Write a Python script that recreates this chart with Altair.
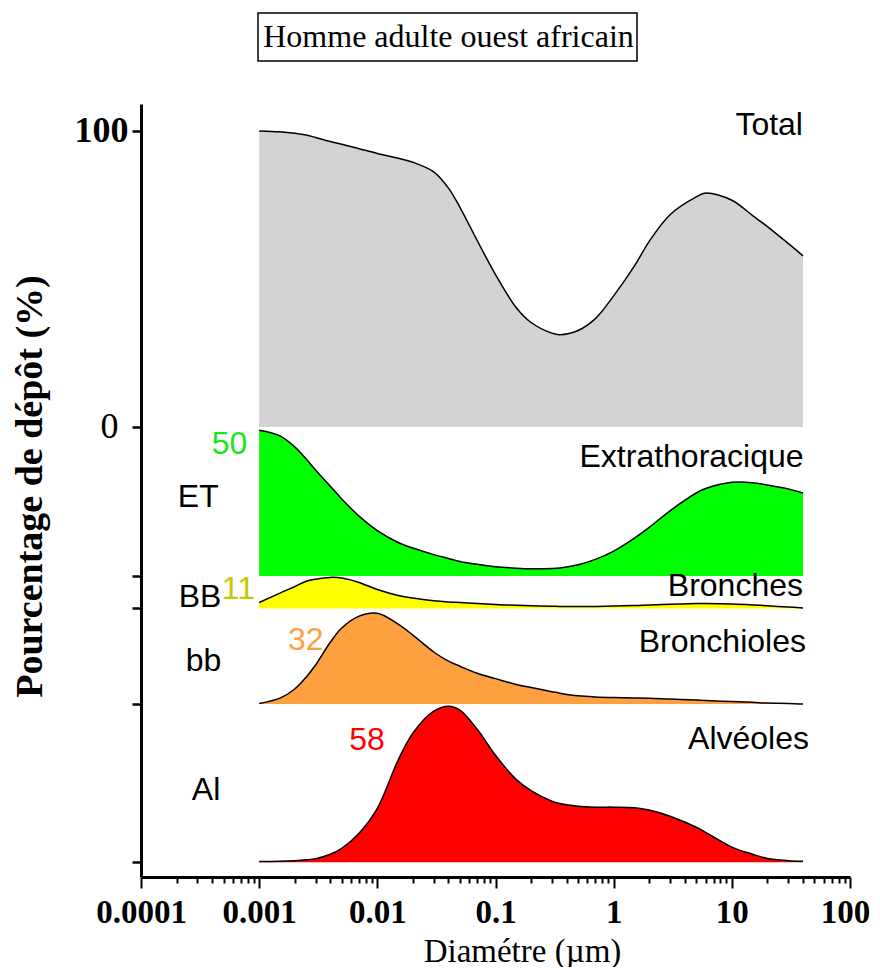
import altair as alt
import pandas as pd

# ---------------- data ----------------
diameter = [0.001, 0.0015, 0.002, 0.0025, 0.003, 0.004, 0.005, 0.007, 0.01, 0.015,
            0.02, 0.03, 0.04, 0.05, 0.07, 0.1, 0.15, 0.2, 0.3, 0.35,
            0.5, 0.7, 1, 1.5, 2, 3, 5, 6, 10, 15, 20, 30, 40]

total = [100, 99.7, 99.2, 98.6, 97.8, 96.4, 95.5, 94.0, 92.4, 90.8,
         89.4, 86.2, 80.7, 74.2, 63.0, 51.5, 40.3, 35.3, 31.7, 31.2,
         32.6, 36.6, 44.3, 54.4, 62.7, 71.7, 77.7, 79.0, 76.6, 71.4, 67.7, 62.0, 57.8]

extrathoracique = [49.2, 47.3, 43.6, 39.5, 35.8, 30.3, 26.0, 20.2, 15.3, 11.3,
                   9.4, 7.2, 5.9, 4.9, 3.9, 3.1, 2.6, 2.4, 2.5, 2.7,
                   3.8, 5.6, 8.4, 12.8, 16.4, 22.0, 28.0, 29.5, 31.6, 31.5, 30.7, 29.4, 28.0]

bronches = [2.0, 5.2, 7.4, 9.2, 9.9, 10.5, 10.3, 8.8, 6.4, 4.4,
            3.5, 2.6, 2.2, 2.0, 1.7, 1.35, 1.05, 0.9, 0.75, 0.7,
            0.65, 0.7, 0.85, 1.0, 1.2, 1.45, 1.65, 1.65, 1.5, 1.2, 0.9, 0.5, 0.2]

bronchioles = [0.2, 2.0, 5.1, 9.1, 13.2, 20.9, 25.7, 29.7, 30.7, 27.0,
               23.3, 17.6, 14.5, 12.8, 10.4, 8.6, 6.6, 5.6, 4.2, 3.7,
               2.8, 2.4, 2.2, 2.1, 2.0, 1.7, 1.35, 1.2, 0.85, 0.6, 0.35, 0.2, 0.0]

alveoles = [0.2, 0.3, 0.5, 0.8, 1.2, 2.7, 4.7, 9.8, 18.2, 34.5,
            43.6, 51.0, 52.7, 51.4, 44.9, 36.1, 27.9, 24.2, 20.6, 19.8,
            18.9, 18.6, 18.6, 18.4, 17.6, 15.5, 11.8, 10.1, 5.1, 2.7, 1.25, 0.5, 0.3]

series_names = ["Total", "Extrathoracique", "Bronches", "Bronchioles", "Alvéoles"]
series_values = [total, extrathoracique, bronches, bronchioles, alveoles]
baselines = [0, -50.3, -61.3, -93.6, -147.0]
fills = ["#d3d3d3", "#00ff00", "#ffff00", "#ffa040", "#ff0000"]

# right-hand series names
name_x = [40, 40.5, 40, 42.4, 45]
name_y = [98.6, -13.4, -57.0, -75.9, -108.6]

# left-hand abbreviations
abbr_text = ["ET", "BB", "bb", "Al"]
abbr_x = [3.05e-4, 3.16e-4, 3.38e-4, 3.55e-4]
abbr_y = [-27.1, -60.7, -82.3, -126.0]

# peak values
peak_text = ["50", "11", "32", "58"]
peak_x = [7.93e-4, 9.23e-4, 2.48e-3, 8.18e-3]
peak_y = [-9.2, -58.1, -75.3, -109.1]
peak_align = ["right", "right", "center", "center"]
peak_color = ["#19e619", "#c8c800", "#ffa040", "#ff0000"]

title_text = "Homme adulte ouest africain"
x_title = "Diamétre (µm)"
y_title = "Pourcentage de dépôt (%)"

decades = [0.0001, 0.001, 0.01, 0.1, 1, 10, 100]
x_ticks = [round(m * 10.0 ** k, 8) for k in range(-4, 2) for m in range(1, 10)] + [100]
y_ticks = [100, 0] + baselines[1:]

# ---------------- tables ----------------
rows = []
for name, base, vals in zip(series_names, baselines, series_values):
    for x, v in zip(diameter, vals):
        rows.append({"series": name, "x": x, "y": base + v, "y0": base})
df = pd.DataFrame(rows)

labels_right = pd.DataFrame({"x": name_x, "y": name_y, "text": series_names,
                             "color": ["black"] * 5})
labels_center = pd.DataFrame({"x": abbr_x, "y": abbr_y, "text": abbr_text,
                              "color": ["black"] * 4})
peaks = pd.DataFrame({"x": peak_x, "y": peak_y, "text": peak_text,
                      "align": peak_align, "color": peak_color})

xscale = alt.Scale(type="log", domain=[0.0001, 100], nice=False)
yscale = alt.Scale(domain=[-152, 109.1], nice=False, zero=False)

dec_test = "indexof([0.0001,0.001,0.01,0.1,1,10,100], datum.value) >= 0"

x_axis = alt.Axis(
    values=x_ticks, format=".4~f",
    labelExpr=f"{dec_test} ? datum.label : ''",
    labelFont="Liberation Serif", labelFontSize=33, labelFontWeight="bold",
    labelColor="black", labelPadding=8, labelFlush=False, labelOverlap=False,
    labelOffset={"condition": {"test": "datum.value == 100", "value": -5},
                 "value": 0},
    tickSize={"condition": {"test": dec_test, "value": 11}, "value": 6},
    tickWidth=2, tickColor="black", domainColor="black", domainWidth=3,
    grid=False, title=x_title, titleFont="Liberation Serif", titleFontSize=33,
    titleFontWeight="normal", titleColor="black", titleX=381, titleY=84,
    titleBaseline="alphabetic", titleAlign="center",
)
y_axis = alt.Axis(
    values=y_ticks,
    labelExpr="datum.value == 100 ? '100' : (datum.value == 0 ? '0' : '')",
    labelFont="Liberation Serif", labelFontSize=36,
    labelFontWeight={"condition": {"test": "datum.value == 100", "value": "bold"},
                     "value": "normal"},
    labelPadding={"condition": {"test": "datum.value == 0", "value": 14},
                  "value": 4},
    labelColor="black", labelFlush=False, labelOverlap=False,
    tickSize=9, tickWidth=2.5, tickColor="black", domainColor="black",
    domainWidth=3, grid=False, title=y_title, titleFont="Liberation Serif",
    titleFontSize=38, titleFontWeight="bold", titleColor="black",
    titleX=-100, titleY=382, titleAngle=270, titleBaseline="alphabetic",
    titleAlign="center",
)

interp = "catmull-rom"

areas = alt.Chart(df).mark_area(interpolate=interp, opacity=1).encode(
    x=alt.X("x:Q", scale=xscale, axis=x_axis),
    y=alt.Y("y:Q", scale=yscale, axis=y_axis),
    y2="y0:Q",
    color=alt.Color("series:N", scale=alt.Scale(domain=series_names, range=fills),
                    legend=None),
)

lines = alt.Chart(df).mark_line(interpolate=interp, color="black",
                                strokeWidth=1.5).encode(
    x=alt.X("x:Q", scale=xscale),
    y=alt.Y("y:Q", scale=yscale),
    detail="series:N",
)


def text_layer(data, align):
    return alt.Chart(data).mark_text(
        align=align, baseline="alphabetic", font="Liberation Sans", fontSize=32
    ).encode(x=alt.X("x:Q", scale=xscale), y=alt.Y("y:Q", scale=yscale),
             text="text:N", color=alt.Color("color:N", scale=None))


txt_right = text_layer(labels_right, "right")
txt_center = text_layer(labels_center, "center")
peak_right = text_layer(peaks[peaks["align"] == "right"], "right")
peak_center = text_layer(peaks[peaks["align"] == "center"], "center")

one = pd.DataFrame({"t": [title_text]})
title_box = alt.Chart(one).mark_rect(fill="white", stroke="black",
                                     strokeWidth=1.5).encode(
    x=alt.value(117), x2=alt.value(496), y=alt.value(-91), y2=alt.value(-43))
title_txt = alt.Chart(one).mark_text(
    align="center", baseline="alphabetic", font="Liberation Serif", fontSize=32,
    color="black").encode(x=alt.value(307.5), y=alt.value(-57), text="t:N")

chart = alt.layer(
    areas, lines, txt_right, txt_center, peak_right, peak_center, title_box, title_txt
).properties(
    width=709, height=773,
    padding={"left": 133, "top": 96, "right": 22, "bottom": 90},
    autosize=alt.AutoSizeParams(type="none"),
    background="white",
).configure_view(stroke=None)

chart.save("out.html", embed_options={"renderer": "svg", "actions": False})
